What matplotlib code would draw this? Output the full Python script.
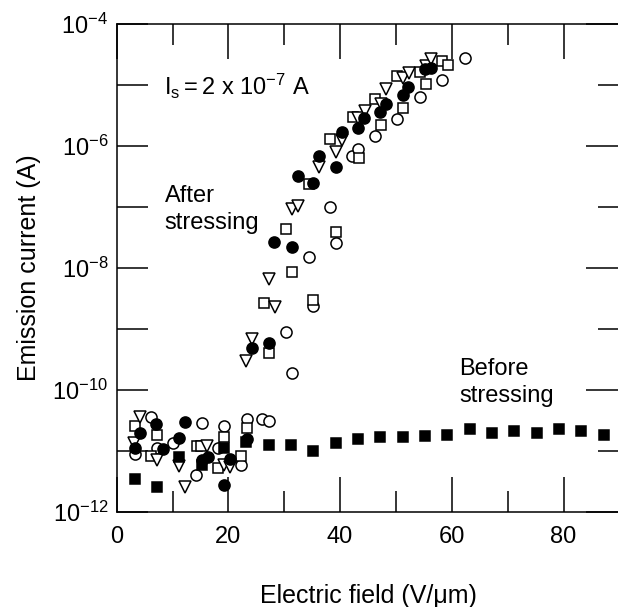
import matplotlib
matplotlib.use('Agg')
import matplotlib.pyplot as plt
import numpy as np
from matplotlib.ticker import FixedLocator, FixedFormatter, NullFormatter

plt.rcParams['font.family'] = ['Liberation Sans', 'DejaVu Sans']
plt.rcParams['mathtext.fontset'] = 'custom'
plt.rcParams['mathtext.rm'] = 'Liberation Sans'
plt.rcParams['mathtext.it'] = 'Liberation Sans:italic'

# ---- data: electric field (V/um) and log10(emission current / A) ----
before_x = [3.3, 7.3, 11.2, 15.2, 19.2, 23.2, 27.2, 31.2, 35.2, 39.2, 43.2,
            47.2, 51.2, 55.2, 59.2, 63.2, 67.2, 71.2, 75.2, 79.2, 83.2, 87.2]
before_logI = [-11.47, -11.59, -11.11, -11.24, -10.95, -10.86, -10.91, -10.91,
               -11.00, -10.87, -10.80, -10.77, -10.78, -10.76, -10.75, -10.65,
               -10.71, -10.68, -10.71, -10.65, -10.68, -10.75]

fcirc_x = [3.3, 4.2, 7.1, 8.3, 11.2, 12.2, 15.2, 16.3, 19.2, 20.3, 23.3,
           24.3, 27.2, 28.2, 31.3, 32.4, 35.2, 36.3, 39.2, 40.3, 43.2, 44.2,
           47.2, 48.3, 51.2, 52.2, 55.2, 56.2]
fcirc_logI = [-10.96, -10.71, -10.56, -10.97, -10.79, -10.53, -11.16, -11.11,
              -11.57, -11.14, -10.80,
              -9.31, -9.23, -7.57, -7.66, -6.50, -6.61, -6.17, -6.34, -5.77,
              -5.70, -5.55, -5.45, -5.31, -5.16, -5.04, -4.74, -4.72]

ocirc_x = [3.3, 6.1, 7.2, 10.1, 14.2, 15.2, 18.1, 19.2, 22.2, 23.3, 26.0, 27.2,
           30.3, 31.3, 34.4, 35.2, 38.2, 39.3, 42.1, 43.2, 46.3, 50.2, 54.3,
           58.3, 62.4]
ocirc_logI = [-11.05, -10.45, -10.96, -10.87, -11.39, -10.55, -10.96, -10.59,
              -11.23, -10.48, -10.48, -10.52,
              -9.06, -9.72, -7.82, -8.63, -7.01, -7.60, -6.17, -6.05, -5.83,
              -5.56, -5.19, -4.92, -4.56]

osq_x = [3.2, 6.1, 7.3, 14.3, 15.1, 18.2, 19.2, 22.2, 23.3,
         26.3, 27.3, 30.3, 31.3, 34.4, 35.2, 38.2, 39.3, 42.3, 43.3, 46.3,
         47.4, 50.2, 51.2, 54.3, 55.3, 58.3, 59.3]
osq_logI = [-10.60, -11.08, -10.74, -10.93, -10.93, -11.28, -10.78, -11.08,
            -10.62,
            -8.57, -9.39, -7.37, -8.07, -6.63, -8.53, -5.88, -7.42, -5.53,
            -6.20, -5.23, -5.65, -4.86, -5.37, -4.78, -4.99, -4.60, -4.67]

otri_x = [3.1, 4.2, 7.2, 11.2, 12.2, 16.2, 19.2, 20.2,
          23.2, 24.3, 27.3, 28.3, 31.3, 32.4, 36.3, 39.3, 40.3, 43.2, 44.4,
          47.3, 48.3, 51.2, 52.3, 55.3, 56.3]
otri_logI = [-10.87, -10.44, -11.15, -11.25, -11.59, -10.93, -11.23, -11.26,
             -9.52, -9.17, -8.18, -8.65, -7.04, -6.98, -6.35, -6.10, -5.90,
             -5.55, -5.42, -5.32, -5.06, -4.88, -4.80, -4.69, -4.57]

xticks = [0, 20, 40, 60, 80]
xlabels = ['0', '20', '40', '60', '80']
ylabel_exps = [-12, -10, -8, -6, -4]

# ---- figure ----
fig = plt.figure(figsize=(6.18, 6.07), dpi=100)
ax = fig.add_axes([116.7 / 618, (607 - 511.7) / 607,
                   (619.4 - 116.7) / 618, (511.7 - 24) / 607])

ms = 8
ew = 1.1
ax.plot(ocirc_x, 10.0 ** np.array(ocirc_logI), 'o', ms=ms, mfc='white',
        mec='black', mew=ew, ls='none')
ax.plot(osq_x, 10.0 ** np.array(osq_logI), 's', ms=ms - 0.5, mfc='white',
        mec='black', mew=ew, ls='none')
ax.plot(otri_x, 10.0 ** np.array(otri_logI), 'v', ms=ms, mfc='white',
        mec='black', mew=ew, ls='none')
ax.plot(fcirc_x, 10.0 ** np.array(fcirc_logI), 'o', ms=ms, mfc='black',
        mec='black', mew=ew, ls='none')
ax.plot(before_x, 10.0 ** np.array(before_logI), 's', ms=7, mfc='black',
        mec='black', mew=ew, ls='none')

ax.set_yscale('log')
ax.set_xlim(0, 90)
ax.set_ylim(1e-12, 1e-4)

ax.xaxis.set_major_locator(FixedLocator(xticks))
ax.xaxis.set_major_formatter(FixedFormatter(xlabels))
ax.xaxis.set_minor_locator(FixedLocator([10, 30, 50, 70, 90]))

yt_major = [10.0 ** e for e in ylabel_exps]
ax.yaxis.set_major_locator(FixedLocator(yt_major))
ax.yaxis.set_major_formatter(FixedFormatter(
    [r'$\mathregular{10^{%d}}$' % e for e in ylabel_exps]))
ax.yaxis.set_minor_locator(FixedLocator([1e-11, 1e-9, 1e-7, 1e-5]))
ax.yaxis.set_minor_formatter(NullFormatter())

ax.tick_params(axis='x', which='major', direction='in', length=25, width=1.1,
               top=True, bottom=True, labelsize=17, pad=10)
ax.tick_params(axis='x', which='minor', direction='in', length=15, width=1.1,
               top=True, bottom=True)
ax.tick_params(axis='y', which='both', direction='in', length=22, width=1.1,
               left=True, right=False, labelsize=17, pad=6)

sec = ax.secondary_yaxis('right')
sec.yaxis.set_major_locator(FixedLocator(yt_major))
sec.yaxis.set_minor_locator(FixedLocator([1e-11, 1e-9, 1e-7, 1e-5]))
sec.yaxis.set_major_formatter(NullFormatter())
sec.yaxis.set_minor_formatter(NullFormatter())
sec.tick_params(which='major', direction='in', length=24, width=1.1)
sec.tick_params(which='minor', direction='in', length=15, width=1.1)
sec.spines['right'].set_linewidth(1.1)

for sp in ax.spines.values():
    sp.set_linewidth(1.1)

ax.set_xlabel(r'Electric field (V/μm)', fontsize=18, labelpad=26)
ax.set_ylabel('Emission current (A)', fontsize=18, labelpad=8)

ax.text(8.4, 10 ** -5.02, r'$\mathregular{I_s= 2\ x\ 10^{-7}\ A}$',
        fontsize=17, va='center', ha='left')
ax.text(8.6, 10 ** -7.05, 'After\nstressing', fontsize=17, va='center',
        ha='left', linespacing=1.3)
ax.text(61.3, 10 ** -9.88, 'Before\nstressing', fontsize=17, va='center',
        ha='left', linespacing=1.3)

fig.savefig('out.png', dpi=100)
